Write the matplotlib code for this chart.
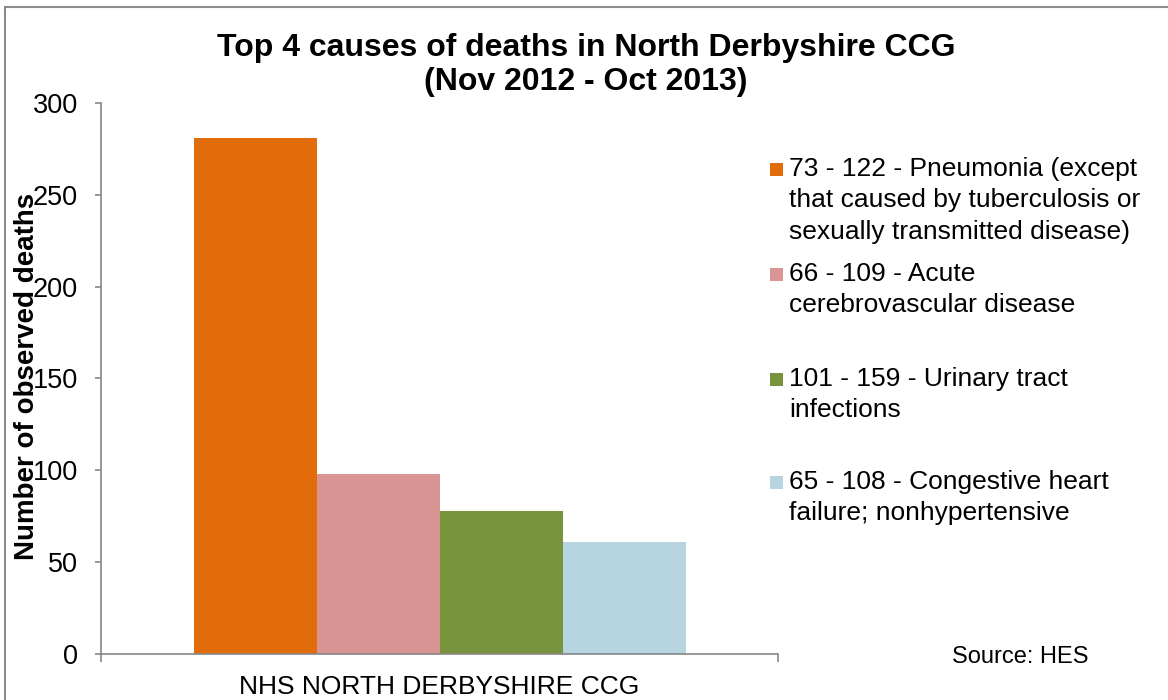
import matplotlib
matplotlib.use("Agg")
import matplotlib.pyplot as plt
from matplotlib.patches import Rectangle

plt.rcParams['font.family'] = ['Liberation Sans', 'DejaVu Sans']

# Data
category = "NHS NORTH DERBYSHIRE CCG"
causes = [
    "73 - 122 - Pneumonia (except\nthat caused by tuberculosis or\nsexually transmitted disease)",
    "66 - 109 - Acute\ncerebrovascular disease",
    "101 - 159 - Urinary tract\ninfections",
    "65 - 108 - Congestive heart\nfailure; nonhypertensive",
]
deaths = [281, 98, 78, 61]
colors = ["#E36C0A", "#D99594", "#77933C", "#B7D5E0"]
y_ticks = [0, 50, 100, 150, 200, 250, 300]

W, H = 1168, 700
fig = plt.figure(figsize=(W / 100, H / 100), dpi=100)

def fx(px):
    return px / W

def fy(py):
    return 1 - py / H

# Chart-area border
fig.add_artist(Rectangle((fx(5), fy(720)), fx(1180), fy(7) - fy(720),
                         transform=fig.transFigure, fill=False,
                         edgecolor="#8C8C8C", linewidth=1.5))

ax = fig.add_axes([fx(101), fy(654), fx(778) - fx(101), fy(103) - fy(654)])

n = len(deaths)
bw = 123 / 677
offsets = [(i - (n - 1) / 2) * bw for i in range(n)]
for off, val, col in zip(offsets, deaths, colors):
    ax.bar(off, val, width=bw, color=col, linewidth=0)

ax.set_xlim(-0.5, 0.5)
ax.set_ylim(0, 300)
ax.set_yticks(y_ticks)
ax.set_xticks([-0.5, 0.5])
ax.set_xticklabels(["", ""])
ax.set_xticks([0], minor=True)
ax.set_xticklabels([category], minor=True)
ax.tick_params(axis="x", which="major", length=6, width=1.2, color="#868686", direction="out")
ax.tick_params(axis="x", which="minor", length=0, pad=15, labelsize=19)
ax.tick_params(axis="y", length=4.5, width=1.2, color="#868686", direction="out", pad=12, labelsize=19.5)
for s in ["top", "right"]:
    ax.spines[s].set_visible(False)
for s in ["left", "bottom"]:
    ax.spines[s].set_color("#868686")
    ax.spines[s].set_linewidth(1.2)

ax.set_ylabel("Number of observed deaths", fontsize=20, fontweight="bold")
ax.yaxis.set_label_coords(-0.09, 0.504)

fig.text(fx(586), fy(65), "Top 4 causes of deaths in North Derbyshire CCG\n(Nov 2012 - Oct 2013)",
         ha="center", va="center", fontsize=23, fontweight="bold", linespacing=1.15)

# Legend
cap_tops = [162, 267, 372, 475]
for lab, col, ct in zip(causes, colors, cap_tops):
    fig.add_artist(Rectangle((fx(770), fy(ct + 14)), fx(13), fy(ct + 1) - fy(ct + 14),
                             transform=fig.transFigure, facecolor=col, edgecolor="none"))
    fig.text(fx(789), fy(ct - 5), lab, ha="left", va="top", fontsize=19,
             linespacing=1.39)

fig.text(fx(952), fy(657), "Source: HES", ha="left", va="center", fontsize=17)

fig.savefig("out.png", dpi=100)
